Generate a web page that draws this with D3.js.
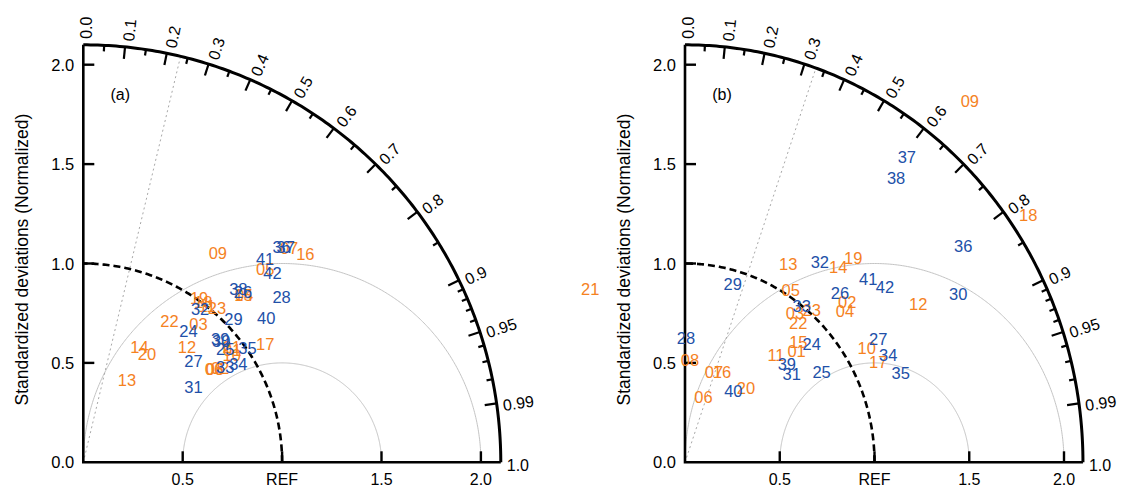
<!DOCTYPE html>
<html><head><meta charset="utf-8">
<script src="https://cdn.jsdelivr.net/npm/d3@7"></script>
<style>body{margin:0;background:#fff} text{font-family:"Liberation Sans",Arial,Helvetica,sans-serif}</style>
</head><body><svg id="c" width="1122" height="488"></svg>
<script>
// ---------- data ----------
const orangeCases = ["01","02","03","04","05","06","07","08","09","10","11","12","13","14","15","16","17","18","19","20","21","22","23"];
const blueCases = ["24","25","26","27","28","29","30","31","32","33","34","35","36","37","38","39","40","41","42"];

// panel (a): normalized standard deviation and correlation
const orangeStdA = [0.937,0.837,0.906,1.169,1.336,0.807,1.496,0.813,1.253,0.921,1.005,0.779,0.467,0.644,1.166,1.532,1.092,1.005,1.013,0.630,0.945,0.831,1.026];
const orangeCorA = [0.799,0.822,0.639,0.692,0.685,0.815,0.692,0.815,0.540,0.811,0.620,0.669,0.471,0.439,0.691,0.729,0.838,0.600,0.575,0.508,0.790,0.522,0.655];
const blueStdA = [0.848,0.914,1.173,0.752,1.297,1.045,0.922,0.671,0.968,0.860,0.924,1.006,1.471,1.486,1.171,0.928,1.171,1.373,1.346];
const blueCorA = [0.624,0.781,0.685,0.737,0.769,0.723,0.752,0.826,0.607,0.830,0.844,0.821,0.678,0.685,0.666,0.742,0.786,0.666,0.707];

// panel (b)
const orangeStdB = [0.812,1.176,0.948,1.136,1.032,0.342,0.479,0.517,2.360,1.119,0.721,1.465,1.137,1.271,0.851,0.494,1.138,2.198,1.359,0.495,1.007,0.921,1.018];
const orangeCorB = [0.725,0.728,0.612,0.743,0.541,0.284,0.319,0.050,0.637,0.857,0.666,0.840,0.479,0.636,0.703,0.395,0.896,0.824,0.653,0.650,-0.497,0.649,0.657];
const blueStdB = [0.894,0.852,1.180,1.193,0.627,0.933,1.673,0.718,1.233,0.997,1.200,1.224,1.826,1.932,1.811,0.731,0.439,1.337,1.376];
const blueCorB = [0.748,0.846,0.693,0.855,0.008,0.270,0.862,0.784,0.577,0.618,0.894,0.930,0.804,0.606,0.615,0.735,0.581,0.723,0.767];

const corrMajor = [0,0.1,0.2,0.3,0.4,0.5,0.6,0.7,0.8,0.9,0.95,0.99,1.0];
const corrMajorLabels = ["0.0","0.1","0.2","0.3","0.4","0.5","0.6","0.7","0.8","0.9","0.95","0.99","1.0"];
const corrMinor = [0.05,0.15,0.25,0.35,0.45,0.55,0.65,0.75,0.85,0.91,0.92,0.93,0.94,0.96,0.97,0.98];
const stdTicks = [0,0.5,1.0,1.5,2.0];
const yTickLabels = ["0.0","0.5","1.0","1.5","2.0"];
const xTicks = [0.5,1.0,1.5,2.0];
const xTickLabels = ["0.5","REF","1.5","2.0"];
const rmsRadii = [0.5,1.0];
const sigCorr = [0.233,0.329];
const panelLabels = ["(a)","(b)"];
const yTitle = "Standardized deviations (Normalized)";

const ORANGE = "#f5821f", BLUE = "#2150a8";
const R = 2.1, Y0 = 462.3;

const svg = d3.select("#c");

function drawPanel(cfg) {
  const g = svg.append("g");
  const x = d3.scaleLinear().domain([0, R]).range([cfg.x0, cfg.x0 + R * cfg.sx]);
  const y = d3.scaleLinear().domain([0, R]).range([Y0, Y0 - R * cfg.sy]);
  const P = (s, r) => [x(s * r), y(s * Math.sqrt(Math.max(0, 1 - r * r)))];
  const line = d3.line();
  const deg = d3.range(0, 90.01, 0.5).map(d => d * Math.PI / 180);

  // RMS arcs around REF
  rmsRadii.forEach(rad => {
    const pts = d3.range(0, 180.01, 0.5).map(a => {
      const t = a * Math.PI / 180;
      return [1 + rad * Math.cos(t), rad * Math.sin(t)];
    }).filter(p => p[0] >= -1e-9 && Math.hypot(p[0], p[1]) <= R);
    g.append("path").attr("d", line(pts.map(p => [x(p[0]), y(p[1])])))
      .attr("fill", "none").attr("stroke", "#c4c4c4").attr("stroke-width", 1);
  });

  // significance line
  g.append("path").attr("d", line([P(0, cfg.sig), P(R, cfg.sig)]))
    .attr("stroke", "#a8a8a8").attr("stroke-width", 1).attr("stroke-dasharray", "2,3").attr("fill", "none");

  // reference std arc
  g.append("path").attr("d", line(deg.map(t => P(1, Math.cos(t)))))
    .attr("fill", "none").attr("stroke", "#000").attr("stroke-width", 2.6).attr("stroke-dasharray", "7,4");

  // axes
  g.append("path").attr("d", line([[x(0), y(R)], [x(0), y(0)], [x(R), y(0)]]))
    .attr("fill", "none").attr("stroke", "#000").attr("stroke-width", 2.6);
  g.append("path").attr("d", line(deg.map(t => P(R, Math.cos(t)))))
    .attr("fill", "none").attr("stroke", "#000").attr("stroke-width", 3);

  // y ticks
  stdTicks.forEach((s, i) => {
    if (s > 0) g.append("line").attr("x1", x(0)).attr("x2", x(0) + 11).attr("y1", y(s)).attr("y2", y(s))
      .attr("stroke", "#000").attr("stroke-width", 2.4);
    g.append("text").attr("x", x(0) - 9).attr("y", y(s)).attr("text-anchor", "end")
      .attr("dominant-baseline", "central").attr("font-size", 16.5).text(yTickLabels[i]);
  });
  // x ticks
  xTicks.forEach((s, i) => {
    g.append("line").attr("x1", x(s)).attr("x2", x(s)).attr("y1", y(0)).attr("y2", y(0) - 11)
      .attr("stroke", "#000").attr("stroke-width", 2.4);
    g.append("text").attr("x", x(s)).attr("y", y(0) + 17).attr("text-anchor", "middle")
      .attr("dominant-baseline", "central").attr("font-size", 16).text(xTickLabels[i]);
  });

  // correlation ticks
  const tick = (r, len) => {
    const [px, py] = P(R, r);
    const t = Math.acos(r);
    g.append("line").attr("x1", px).attr("y1", py)
      .attr("x2", px - len * Math.cos(t)).attr("y2", py + len * Math.sin(t))
      .attr("stroke", "#000").attr("stroke-width", 2.2);
  };
  corrMinor.forEach(r => tick(r, 6));
  corrMajor.forEach((r, i) => {
    if (r > 0 && r < 1) tick(r, 12);
    const [px, py] = P(R, r);
    const t = Math.acos(r);
    const off = 6;
    const lx = px + off * Math.cos(t), ly = py - off * Math.sin(t);
    g.append("text").attr("transform", `translate(${lx},${ly}) rotate(${-t * 180 / Math.PI})`)
      .attr("x", 0).attr("y", 3).attr("dominant-baseline", "central")
      .attr("font-size", 16).text(corrMajorLabels[i]);
  });

  // titles
  g.append("text").attr("transform", `translate(${x(0) - 61},${y(1.02)}) rotate(-90)`)
    .attr("text-anchor", "middle").attr("dominant-baseline", "central").attr("font-size", 17.5).text(yTitle);
  g.append("text").attr("x", x(0) + 37).attr("y", 94).attr("text-anchor", "middle")
    .attr("dominant-baseline", "central").attr("font-size", 16).text(cfg.label);

  // data labels
  const series = [
    {names: orangeCases, std: cfg.oStd, cor: cfg.oCor, color: ORANGE},
    {names: blueCases, std: cfg.bStd, cor: cfg.bCor, color: BLUE}
  ];
  series.forEach(sr => {
    g.append("g").selectAll("text").data(sr.names).join("text")
      .attr("x", (d, i) => P(sr.std[i], sr.cor[i])[0])
      .attr("y", (d, i) => P(sr.std[i], sr.cor[i])[1])
      .attr("text-anchor", "middle").attr("dominant-baseline", "central")
      .attr("font-size", 16.5).attr("fill", sr.color).text(d => d);
  });
}

drawPanel({x0: 83.3, sx: 198.8, sy: 198.8, sig: sigCorr[0], label: panelLabels[0],
  oStd: orangeStdA, oCor: orangeCorA, bStd: blueStdA, bCor: blueCorA});
drawPanel({x0: 685, sx: 189.5, sy: 198.8, sig: sigCorr[1], label: panelLabels[1],
  oStd: orangeStdB, oCor: orangeCorB, bStd: blueStdB, bCor: blueCorB});
</script></body></html>
